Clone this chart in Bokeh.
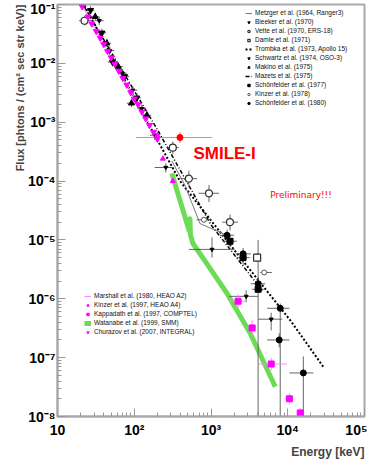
from bokeh.plotting import figure
from bokeh.models import (Legend, LegendItem, Label, Title, FixedTicker,
                          CustomJSTickFormatter)
from bokeh.embed import file_html
from bokeh.resources import INLINE

# ---------------- data (energy keV, flux) ----------------
churazov_E = [21, 25, 28, 32, 36, 40, 45, 50, 56, 63, 71, 80, 90, 100, 112, 126, 141, 158, 178, 200]
churazov_F = [0.092, 0.062, 0.047, 0.035, 0.027, 0.021, 0.016, 0.0125, 0.0097, 0.0074, 0.0056,
              0.0043, 0.0032, 0.0025, 0.0020, 0.0015, 0.00115, 0.00089, 0.00068, 0.00052]

marshall_E = [22, 60, 160]
marshall_F = [0.085, 0.0083, 0.00090]

kinzer97_E = [200, 236, 318]
kinzer97_F = [6.0e-4, 2.4e-4, 1.0e-4]

kapp_E = [2254, 3435, 6085, 10500, 14550]
kapp_F = [9.1e-7, 3.2e-7, 7.8e-8, 2.0e-8, 1.15e-8]
kapp_Elo = [1700, 3000, 4200, 9300, 13000]
kapp_Ehi = [2900, 3900, 9800, 11800, 16500]
kapp_Flo = [7.0e-7, 2.3e-7, 6.0e-8, 1.6e-8, 9e-9]
kapp_Fhi = [1.2e-6, 4.3e-7, 1.0e-7, 2.5e-8, 1.4e-8]

watanabe_E = [309, 400, 520, 531, 540, 582, 900, 1620, 3240, 6870]
watanabe_F = [1.35e-4, 4.4e-5, 1.43e-5, 2.3e-5, 1.22e-5, 8.7e-6, 3.8e-6, 1.23e-6, 2.6e-7, 3.2e-8]

metzger_E = [309, 457, 718, 970, 1620]
metzger_F = [2.2e-4, 8.5e-5, 1.9e-5, 1.6e-5, 1.2e-5]

bleeker_E = [27, 38, 52, 75, 108]
bleeker_F = [0.080, 0.033, 0.0105, 0.0060, 0.0026]
bleeker_Elo = [24, 33, 45, 65, 95]
bleeker_Ehi = [30, 43, 59, 86, 122]
bleeker_Flo = [0.068, 0.028, 0.0089, 0.0051, 0.0022]
bleeker_Fhi = [0.094, 0.039, 0.0124, 0.0071, 0.0031]

vette_E = [22.5, 318, 515, 942, 1770]
vette_F = [0.053, 3.7e-4, 1.1e-4, 6.2e-5, 2.0e-5]
vette_Elo = [19, 270, 400, 690, 1400]
vette_Ehi = [27, 380, 660, 1270, 2250]
vette_Flo = [0.044, 2.9e-4, 8e-5, 4.4e-5, 1.45e-5]
vette_Fhi = [0.064, 4.7e-4, 1.5e-4, 8.6e-5, 2.7e-5]

damle_E = [3990]
damle_F = [5.0e-6]
damle_Elo = [3500]
damle_Ehi = [4500]
damle_Flo = [4.2e-6]
damle_Fhi = [6.0e-6]

trombka_E = [22.5, 100, 394, 2000, 10800, 30000]
trombka_F = [0.095, 0.0026, 1.0e-4, 6.8e-6, 4.3e-7, 6.6e-8]

schwartz_E = [35, 48, 70, 96, 125, 185, 258, 1030, 2870, 6080]
schwartz_F = [0.053, 0.0165, 0.0068, 0.0035, 0.0017, 0.0006, 0.00017, 6.9e-6, 1.1e-6, 4.5e-7]
schwartz_Elo = [31, 42, 61, 84, 110, 160, 184, 515, 1720, 4110]
schwartz_Ehi = [40, 55, 80, 110, 142, 212, 318, 2040, 4110, 8500]
schwartz_Flo = [0.045, 0.014, 0.0058, 0.0030, 0.00145, 0.0005, 0.00014, 5.0e-6, 8.7e-7, 2.9e-7]
schwartz_Fhi = [0.062, 0.0194, 0.008, 0.0041, 0.002, 0.00072, 0.0002, 1.1e-5, 1.4e-6, 5.8e-7]

makino_E = [31, 44, 62, 92, 146]
makino_F = [0.062, 0.022, 0.0088, 0.0021, 0.00131]
makino_Elo = [27, 38, 54, 80, 128]
makino_Ehi = [35, 50, 71, 105, 166]
makino_Flo = [0.053, 0.019, 0.0075, 0.0018, 0.0011]
makino_Fhi = [0.073, 0.026, 0.0104, 0.0025, 0.00155]

mazets_E = [22.5, 200, 1000, 4650]
mazets_F = [0.09, 0.00075, 1.8e-5, 1.38e-6]

sch77_E = [1770, 2620, 4110]
sch77_F = [9.5e-6, 5.0e-6, 1.45e-6]
sch77_Elo = [1450, 2150, 3400]
sch77_Ehi = [2150, 3200, 5000]
sch77_Flo = [7.5e-6, 3.8e-6, 1e-8]
sch77_Fhi = [1.2e-5, 6.5e-6, 1e-5]

kinzer78_E = [809, 4930]
kinzer78_F = [2.2e-5, 2.8e-6]
kinzer78_Elo = [650, 4370]
kinzer78_Ehi = [1000, 6200]
kinzer78_Flo = [2.0e-5, 2.6e-6]
kinzer78_Fhi = [2.4e-5, 3.0e-6]

sch80_E = [1620, 2620, 4110, 7980, 7740, 15960]
sch80_F = [1.2e-5, 5.8e-6, 1.8e-6, 6.9e-7, 2.0e-7, 5.5e-8]
sch80_Elo = [1300, 2100, 3300, 5400, 5400, 10500]
sch80_Ehi = [2000, 3300, 5100, 10500, 10500, 21600]
sch80_Flo = [9.5e-6, 4.6e-6, 1.4e-6, 1e-8, 1.5e-7, 1e-8]
sch80_Fhi = [1.5e-5, 7.3e-6, 2.3e-6, 8.3e-7, 2.6e-7, 1.05e-7]

smile_E = [394]
smile_F = [5.5e-4]
smile_Elo = [105]
smile_Ehi = [1030]
smile_Flo = [4.4e-4]
smile_Fhi = [6.8e-4]

x_decades = [10, 100, 1000, 10000, 100000]
y_decades = [1e-8, 1e-7, 1e-6, 1e-5, 1e-4, 1e-3, 1e-2, 1e-1]

# ---------------- figure ----------------
p = figure(width=367, height=463, x_axis_type="log", y_axis_type="log",
           x_range=(10, 1e5), y_range=(1e-8, 1e-1),
           output_backend="svg", toolbar_location=None,
           min_border_left=57, min_border_right=3, min_border_top=4, min_border_bottom=47)
p.grid.visible = False
p.outline_line_color = "#aaaaaa"
p.outline_line_width = 2
p.background_fill_color = "white"
p.border_fill_color = "white"

xminor = [m * d for d in x_decades[:-1] for m in range(2, 10)]
yminor = [m * d for d in y_decades[:-1] for m in range(2, 10)]
p.xaxis.ticker = FixedTicker(ticks=x_decades, minor_ticks=xminor)
p.yaxis.ticker = FixedTicker(ticks=y_decades, minor_ticks=yminor)

fmt_code = """
const sup = {"0":"\u2070","1":"\u00b9","2":"\u00b2","3":"\u00b3","4":"\u2074","5":"\u2075",
             "6":"\u2076","7":"\u2077","8":"\u2078","9":"\u2079","-":"\u207b"};
const e = Math.round(Math.log10(tick));
if (e == 1) return "10";
return "10" + String(e).split("").map(c => sup[c]).join("");
"""
for ax in (p.xaxis[0], p.yaxis[0]):
    ax.formatter = CustomJSTickFormatter(code=fmt_code)
    ax.axis_line_color = "#aaaaaa"
    ax.axis_line_width = 2
    ax.major_tick_line_color = "#999999"
    ax.minor_tick_line_color = "#999999"
    ax.major_tick_in = 8
    ax.major_tick_out = 0
    ax.minor_tick_in = 4
    ax.minor_tick_out = 0
    ax.major_label_text_font = "Liberation Sans"
    ax.major_label_text_font_style = "bold"
    ax.major_label_text_font_size = "14px"
    ax.major_label_text_color = "black"
p.xaxis.major_label_standoff = 5
p.yaxis.major_label_standoff = 2

# axis titles (as side titles so they sit outside the frame)
p.add_layout(Title(text="Flux [phtons / (cm\u00b2 sec str keV)]", align="right",
                   text_font="Liberation Sans", text_font_style="bold",
                   text_font_size="11px", standoff=0, offset=0), "left")
p.add_layout(Title(text="Energy [keV]", align="right",
                   text_font="Liberation Sans", text_font_style="bold",
                   text_font_size="12px", standoff=4), "below")

ERR = "#555555"
MAG = "#ff00ff"
MAGL = "#ff88ff"
GREEN = "#6ddb55"


def errbars(E, F, Elo, Ehi, Flo, Fhi, color=ERR, alpha=0.9):
    p.segment(x0=Elo, y0=F, x1=Ehi, y1=F, line_color=color, line_width=1, line_alpha=alpha)
    p.segment(x0=E, y0=Flo, x1=E, y1=Fhi, line_color=color, line_width=1, line_alpha=alpha)


# lines
r_trombka = p.line(trombka_E, trombka_F, line_color="black", line_width=2, line_dash="2 2")
r_mazets = p.line(mazets_E, mazets_F, line_color="black", line_width=1.5, line_dash="4 2 1 2")
r_metzger = p.line(metzger_E, metzger_F, line_color="#777777", line_width=1)
r_wat = p.line(watanabe_E, watanabe_F, line_color=GREEN, line_width=5, line_join="round")
r_marshall = p.line(marshall_E, marshall_F, line_color=MAGL, line_width=1)

# error bars
errbars(bleeker_E, bleeker_F, bleeker_Elo, bleeker_Ehi, bleeker_Flo, bleeker_Fhi)
errbars(makino_E, makino_F, makino_Elo, makino_Ehi, makino_Flo, makino_Fhi)
errbars(schwartz_E, schwartz_F, schwartz_Elo, schwartz_Ehi, schwartz_Flo, schwartz_Fhi)
errbars(vette_E, vette_F, vette_Elo, vette_Ehi, vette_Flo, vette_Fhi)
errbars(damle_E, damle_F, damle_Elo, damle_Ehi, damle_Flo, damle_Fhi)
errbars(kinzer78_E, kinzer78_F, kinzer78_Elo, kinzer78_Ehi, kinzer78_Flo, kinzer78_Fhi)
errbars(sch77_E, sch77_F, sch77_Elo, sch77_Ehi, sch77_Flo, sch77_Fhi)
errbars(sch80_E, sch80_F, sch80_Elo, sch80_Ehi, sch80_Flo, sch80_Fhi)
errbars(kapp_E, kapp_F, kapp_Elo, kapp_Ehi, kapp_Flo, kapp_Fhi, color=MAGL, alpha=1)
errbars(smile_E, smile_F, smile_Elo, smile_Ehi, smile_Flo, smile_Fhi, color="#f08080", alpha=1)

# markers
r_bleeker = p.scatter(bleeker_E, bleeker_F, marker="inverted_triangle", size=6, color="black")
r_makino = p.scatter(makino_E, makino_F, marker="triangle", size=6, color="black")
r_schwartz = p.scatter(schwartz_E, schwartz_F, marker="inverted_triangle", size=4, color="black")
r_vette = p.scatter(vette_E, vette_F, marker="circle", size=7, line_color="#333333",
                    fill_color="white", line_width=1.2)
r_damle = p.scatter(damle_E, damle_F, marker="square", size=7, line_color="#333333",
                    fill_color="white", line_width=1.2)
r_kinzer78 = p.scatter(kinzer78_E, kinzer78_F, marker="circle", size=5, line_color="#555555",
                       fill_color="white", line_width=1)
r_sch77 = p.scatter(sch77_E, sch77_F, marker="square", size=6, color="black")
r_sch80 = p.scatter(sch80_E, sch80_F, marker="circle", size=6, color="black")
r_churazov = p.scatter(churazov_E, churazov_F, marker="inverted_triangle", size=6, color=MAG)
r_kinzer97 = p.scatter(kinzer97_E, kinzer97_F, marker="triangle", size=5, color=MAG)
r_kapp = p.scatter(kapp_E, kapp_F, marker="square", size=6, color=MAG)
r_smile = p.scatter(smile_E, smile_F, marker="circle", size=6, color="red")

legend_style = dict(label_text_font="Liberation Sans", label_text_font_size="6.5px",
                    label_text_color="#111111", glyph_width=7, glyph_height=6,
                    label_height=6, spacing=2, padding=0, margin=0, label_standoff=3,
                    border_line_alpha=0, background_fill_alpha=0)

leg1 = Legend(items=[
    LegendItem(label="Metzger et al. (1964, Ranger3)", renderers=[r_metzger]),
    LegendItem(label="Bleeker et al. (1970)", renderers=[r_bleeker]),
    LegendItem(label="Vette et al. (1970, ERS-18)", renderers=[r_vette]),
    LegendItem(label="Damle et al. (1971)", renderers=[r_damle]),
    LegendItem(label="Trombka et al. (1973, Apollo 15)", renderers=[r_trombka]),
    LegendItem(label="Schwartz et al. (1974, OSO-3)", renderers=[r_schwartz]),
    LegendItem(label="Makino et al. (1975)", renderers=[r_makino]),
    LegendItem(label="Mazets et al. (1975)", renderers=[r_mazets]),
    LegendItem(label="Sch\u00f6nfelder et al. (1977)", renderers=[r_sch77]),
    LegendItem(label="Kinzer et al. (1978)", renderers=[r_kinzer78]),
    LegendItem(label="Sch\u00f6nfelder et al. (1980)", renderers=[r_sch80]),
], location=(188, 310), **legend_style)
p.add_layout(leg1)

leg2 = Legend(items=[
    LegendItem(label="Marshall et al. (1980, HEAO A2)", renderers=[r_marshall]),
    LegendItem(label="Kinzer et al. (1997, HEAO A4)", renderers=[r_kinzer97]),
    LegendItem(label="Kappadath et al. (1997, COMPTEL)", renderers=[r_kapp]),
    LegendItem(label="Watanabe et al. (1999, SMM)", renderers=[r_wat]),
    LegendItem(label="Churazov et al. (2007, INTEGRAL)", renderers=[r_churazov]),
], location=(27, 81), **legend_style)
p.add_layout(leg2)

p.add_layout(Label(x=590, y=2.0e-4, text="SMILE-I", text_color="red",
                   text_font="Liberation Sans", text_font_style="bold", text_font_size="17px"))
p.add_layout(Label(x=5900, y=4.8e-5, text="Preliminary!!!", text_color="red",
                   text_font="DejaVu Sans", text_font_size="9px"))

with open("out.html", "w", encoding="utf-8") as f:
    f.write(file_html(p, INLINE))
